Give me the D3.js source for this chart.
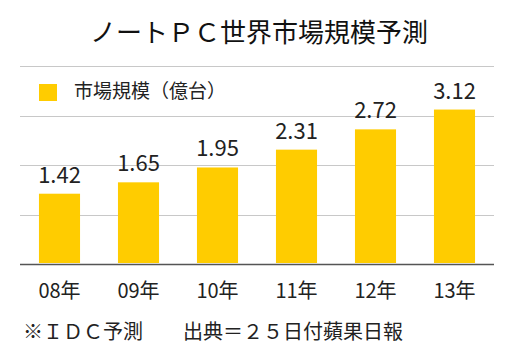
<!DOCTYPE html>
<html>
<head>
<meta charset="utf-8">
<script src="https://cdn.jsdelivr.net/npm/d3@7"></script>
<style>
  body { margin: 0; background: #fff; }
  text { font-family: "Noto Sans CJK JP", "Noto Sans", sans-serif; }
</style>
</head>
<body>
<script>
// data
var years = ["08年", "09年", "10年", "11年", "12年", "13年"];
var units = [1.42, 1.65, 1.95, 2.31, 2.72, 3.12];
var gridTicks = [0, 1, 2, 3, 4];

var width = 518,
  height = 353;
var margin = {
  top: 66,
  bottom: 89,
  left: 20,
  right: 24
};

var svg = d3.select('body')
  .append('svg')
  .attr('width', width)
  .attr('height', height)
  .style('background', '#fff');

// scales
var yScale = d3.scaleLinear()
  .domain([0, 4])
  .range([height - margin.bottom, margin.top]);

var xScale = d3.scaleBand()
  .domain(years)
  .range([margin.left, width - margin.right])
  .paddingInner(0.48)
  .paddingOuter(0.24);

// title
svg.append('text')
  .attr('x', 259)
  .attr('y', 42)
  .attr('text-anchor', 'middle')
  .style('font-size', '26px')
  .style('fill', '#111')
  .text('ノートＰＣ世界市場規模予測');

// grid lines
svg.append('g')
  .selectAll('line')
  .data(gridTicks)
  .enter()
  .append('line')
  .attr('x1', margin.left)
  .attr('x2', width - margin.right)
  .attr('y1', function(d) { return Math.round(yScale(d)) + 0.5; })
  .attr('y2', function(d) { return Math.round(yScale(d)) + 0.5; })
  .style('stroke', function(d) { return d === 0 ? '#555' : '#c8c8c8'; })
  .style('stroke-width', function(d) { return d === 0 ? 1.5 : 1; });

// legend
svg.append('rect')
  .attr('x', 39)
  .attr('y', 84)
  .attr('width', 18)
  .attr('height', 17)
  .attr('fill', '#ffcc00');

svg.append('text')
  .attr('x', 74)
  .attr('y', 98)
  .style('font-size', '19px')
  .style('fill', '#222')
  .text('市場規模（億台）');

// bars
svg.selectAll('rect.bar')
  .data(units)
  .enter()
  .append('rect')
  .attr('class', 'bar')
  .attr('x', function(d, i) { return xScale(years[i]); })
  .attr('y', function(d) { return yScale(d); })
  .attr('width', xScale.bandwidth())
  .attr('height', function(d) { return yScale(0) - 1 - yScale(d); })
  .attr('fill', '#ffcc00');

// value labels
svg.selectAll('text.val')
  .data(units)
  .enter()
  .append('text')
  .attr('class', 'val')
  .attr('x', function(d, i) { return xScale(years[i]) + xScale.bandwidth() / 2; })
  .attr('y', function(d) { return yScale(d) - 11; })
  .attr('text-anchor', 'middle')
  .style('font-size', '22px')
  .style('fill', '#222')
  .text(function(d) { return d.toFixed(2); });

// x labels
var xAxis = svg.append('g')
  .attr('transform', `translate(0,${height - margin.bottom})`)
  .call(d3.axisBottom(xScale).tickSize(0).tickPadding(0));
xAxis.select('.domain').remove();
xAxis.selectAll('text')
  .attr('dy', null)
  .attr('y', 34)
  .style('font-size', '20px')
  .style('font-family', '"Noto Sans CJK JP", sans-serif')
  .style('fill', '#222');

// footnote
svg.append('text')
  .attr('x', 23)
  .attr('y', 339)
  .style('font-size', '20px')
  .style('fill', '#222')
  .text('※ＩＤＣ予測　　出典＝２５日付蘋果日報');
</script>
</body>
</html>
